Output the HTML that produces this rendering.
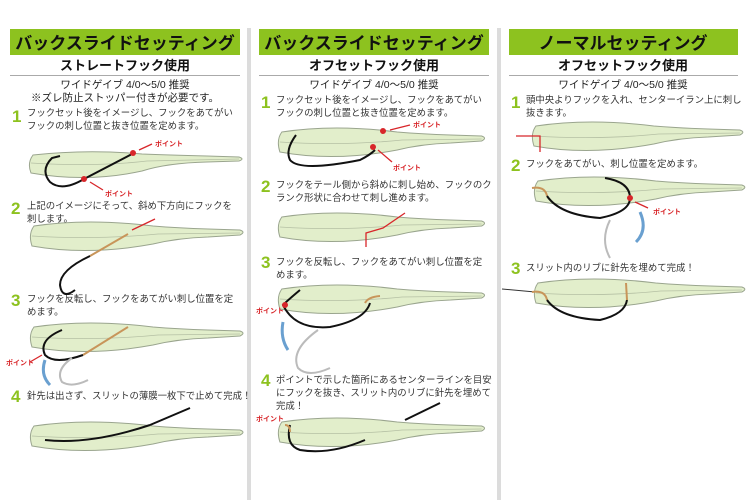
<!DOCTYPE html>
<html><head><meta charset="utf-8"><style>
body{margin:0;background:#fff;}
svg{display:block;}
text{font-family:"Liberation Sans","Noto Sans CJK JP",sans-serif;}
.h{font-size:17px;font-weight:bold;fill:#111;}
.s{font-size:13px;font-weight:bold;fill:#111;}
.t{font-size:9.4px;fill:#333;}
.c{font-size:10.5px;fill:#222;}
.n{font-size:17px;font-weight:bold;fill:#8dc21f;}
.p{font-size:7px;font-weight:bold;fill:#d8262a;}
.f{fill:#e2eecb;stroke:#9aa58e;stroke-width:1;}
.l{fill:none;stroke:#b5c0a4;stroke-width:0.8;}
.k{fill:none;stroke:#111;stroke-width:2;}
.g{fill:none;stroke:#bbb;stroke-width:2;}
.r{fill:none;stroke:#d8262a;stroke-width:1.3;}
.o{fill:none;stroke:#c8955a;stroke-width:2;}
.b{fill:none;stroke:#6aa0d0;stroke-width:3;}
</style></head><body>
<svg width="750" height="500" viewBox="0 0 750 500">
<rect x="247" y="28" width="4" height="472" fill="#dcdcdc"/>
<rect x="497" y="28" width="4" height="472" fill="#dcdcdc"/>
<rect x="10" y="29" width="230" height="26" fill="#8dc21f"/>
<rect x="259" y="29" width="230" height="26" fill="#8dc21f"/>
<rect x="509" y="29" width="229" height="26" fill="#8dc21f"/>
<text class="h" x="125" y="49" text-anchor="middle">バックスライドセッティング</text>
<text class="h" x="374" y="49" text-anchor="middle">バックスライドセッティング</text>
<text class="h" x="623" y="49" text-anchor="middle">ノーマルセッティング</text>
<text class="s" x="125" y="70" text-anchor="middle">ストレートフック使用</text>
<text class="s" x="374" y="70" text-anchor="middle">オフセットフック使用</text>
<text class="s" x="623" y="70" text-anchor="middle">オフセットフック使用</text>
<line x1="10" y1="75.5" x2="240" y2="75.5" stroke="#aaa"/>
<line x1="259" y1="75.5" x2="489" y2="75.5" stroke="#aaa"/>
<line x1="509" y1="75.5" x2="738" y2="75.5" stroke="#aaa"/>
<text class="c" x="125" y="88" text-anchor="middle">ワイドゲイブ 4/0～5/0 推奨</text>
<text class="c" x="125" y="101" text-anchor="middle">※ズレ防止ストッパー付きが必要です。</text>
<text class="c" x="374" y="88" text-anchor="middle">ワイドゲイブ 4/0～5/0 推奨</text>
<text class="c" x="623" y="88" text-anchor="middle">ワイドゲイブ 4/0～5/0 推奨</text>

<text class="n" x="12" y="122">1</text>
<text class="t" x="27" y="116">フックセット後をイメージし、フックをあてがい</text>
<text class="t" x="27" y="129">フックの刺し位置と抜き位置を定めます。</text>
<text class="n" x="11" y="214">2</text>
<text class="t" x="27" y="209">上記のイメージにそって、斜め下方向にフックを</text>
<text class="t" x="27" y="222">刺します。</text>
<text class="n" x="11" y="306">3</text>
<text class="t" x="27" y="302">フックを反転し、フックをあてがい刺し位置を定</text>
<text class="t" x="27" y="315">めます。</text>
<text class="n" x="11" y="402">4</text>
<text class="t" x="27" y="399">針先は出さず、スリットの薄膜一枚下で止めて完成！</text>

<text class="n" x="261" y="108">1</text>
<text class="t" x="276" y="103">フックセット後をイメージし、フックをあてがい</text>
<text class="t" x="276" y="116">フックの刺し位置と抜き位置を定めます。</text>
<text class="n" x="261" y="192">2</text>
<text class="t" x="276" y="188">フックをテール側から斜めに刺し始め、フックのク</text>
<text class="t" x="276" y="201">ランク形状に合わせて刺し進めます。</text>
<text class="n" x="261" y="268">3</text>
<text class="t" x="276" y="265">フックを反転し、フックをあてがい刺し位置を定</text>
<text class="t" x="276" y="278">めます。</text>
<text class="n" x="261" y="386">4</text>
<text class="t" x="276" y="383">ポイントで示した箇所にあるセンターラインを目安</text>
<text class="t" x="276" y="396">にフックを抜き、スリット内のリブに針先を埋めて</text>
<text class="t" x="276" y="409">完成！</text>

<text class="n" x="511" y="108">1</text>
<text class="t" x="526" y="103">頭中央よりフックを入れ、センターイラン上に刺し</text>
<text class="t" x="526" y="116">抜きます。</text>
<text class="n" x="511" y="171">2</text>
<text class="t" x="526" y="167">フックをあてがい、刺し位置を定めます。</text>
<text class="n" x="511" y="274">3</text>
<text class="t" x="526" y="271">スリット内のリブに針先を埋めて完成！</text>

<g>
<g transform="translate(27,151)"><path class="f" d="M6,4 Q0,12 4,22 Q60,32 115,20 Q140,12 180,11 L212,10 Q218,8 212,6 L180,5 Q140,4 115,3 Q60,-2 6,4Z"/><path class="l" d="M4,12 Q70,16 120,10 L212,8"/></g>
<g transform="translate(28,222)"><path class="f" d="M6,4 Q0,12 4,24 Q60,34 125,22 Q150,16 180,15 L212,13 Q218,10 212,8 L180,7 Q150,6 125,4 Q60,-4 6,4Z"/><path class="l" d="M4,14 Q70,18 130,12 L212,11"/></g>
<g transform="translate(28,323)"><path class="f" d="M6,4 Q0,12 4,24 Q60,34 125,22 Q150,16 180,15 L212,13 Q218,10 212,8 L180,7 Q150,6 125,4 Q60,-4 6,4Z"/><path class="l" d="M4,14 Q70,18 130,12 L212,11"/></g>
<g transform="translate(28,422)"><path class="f" d="M6,4 Q0,12 4,24 Q60,34 125,22 Q150,16 180,15 L212,13 Q218,10 212,8 L180,7 Q150,6 125,4 Q60,-4 6,4Z"/><path class="l" d="M4,14 Q70,18 130,12 L212,11"/></g>

<g transform="translate(276,128) scale(0.97,1)"><path class="f" d="M6,4 Q0,12 4,24 Q60,34 125,22 Q150,16 180,15 L212,13 Q218,10 212,8 L180,7 Q150,6 125,4 Q60,-4 6,4Z"/><path class="l" d="M4,14 Q70,18 130,12 L212,11"/></g>
<g transform="translate(276,213) scale(0.97,1)"><path class="f" d="M6,4 Q0,12 4,24 Q60,34 125,22 Q150,16 180,15 L212,13 Q218,10 212,8 L180,7 Q150,6 125,4 Q60,-4 6,4Z"/><path class="l" d="M4,14 Q70,18 130,12 L212,11"/></g>
<g transform="translate(276,285) scale(0.97,1)"><path class="f" d="M6,4 Q0,12 4,24 Q60,34 125,22 Q150,16 180,15 L212,13 Q218,10 212,8 L180,7 Q150,6 125,4 Q60,-4 6,4Z"/><path class="l" d="M4,14 Q70,18 130,12 L212,11"/></g>
<g transform="translate(276,418) scale(0.97,1)"><path class="f" d="M6,4 Q0,12 4,24 Q60,34 125,22 Q150,16 180,15 L212,13 Q218,10 212,8 L180,7 Q150,6 125,4 Q60,-4 6,4Z"/><path class="l" d="M4,14 Q70,18 130,12 L212,11"/></g>

<g transform="translate(530,122) scale(0.99,1)"><path class="f" d="M6,4 Q0,12 4,24 Q60,34 125,22 Q150,16 180,15 L212,13 Q218,10 212,8 L180,7 Q150,6 125,4 Q60,-4 6,4Z"/><path class="l" d="M4,14 Q70,18 130,12 L212,11"/></g>
<g transform="translate(532,177) scale(0.99,1)"><path class="f" d="M6,4 Q0,12 4,24 Q60,34 125,22 Q150,16 180,15 L212,13 Q218,10 212,8 L180,7 Q150,6 125,4 Q60,-4 6,4Z"/><path class="l" d="M4,14 Q70,18 130,12 L212,11"/></g>
<g transform="translate(532,279) scale(0.99,1)"><path class="f" d="M6,4 Q0,12 4,24 Q60,34 125,22 Q150,16 180,15 L212,13 Q218,10 212,8 L180,7 Q150,6 125,4 Q60,-4 6,4Z"/><path class="l" d="M4,14 Q70,18 130,12 L212,11"/></g>
</g>

<path class="k" d="M132,154 L84,179 Q62,192 50,182 Q40,170 52,158 L60,156"/>
<circle cx="133" cy="153" r="3" fill="#d8262a"/><circle cx="84" cy="179" r="3" fill="#d8262a"/>
<path class="r" d="M139,150 L152,144"/><text class="p" x="155" y="146">ポイント</text>
<path class="r" d="M90,182 L103,190"/><text class="p" x="105" y="196">ポイント</text>
<path class="o" d="M128,234 L90,256"/>
<path class="k" d="M90,256 Q60,270 60,285 Q62,300 75,290"/>
<path class="r" d="M155,219 L132,230"/>
<path class="o" d="M128,327 L83,355"/>
<path class="k" d="M62,330 Q38,340 45,355 Q55,365 83,355"/>
<path class="g" d="M72,358 Q55,370 62,382 Q72,388 88,380"/>
<path class="b" d="M45,360 Q40,375 50,385"/>
<path class="r" d="M42,355 L30,362"/><text class="p" x="6" y="365">ポイント</text>
<path class="k" d="M190,408 L150,425"/>
<path class="k" d="M150,425 Q90,445 45,440"/>

<path class="k" d="M296,135 Q285,150 290,160 Q300,172 360,160 Q370,155 375,150"/>
<circle cx="383" cy="131" r="3" fill="#d8262a"/><circle cx="373" cy="147" r="3" fill="#d8262a"/>
<path class="r" d="M390,130 L410,125"/><text class="p" x="413" y="127">ポイント</text>
<path class="r" d="M378,150 L392,162"/><text class="p" x="393" y="170">ポイント</text>
<path class="r" d="M405,213 L383,228 L366,233 L366,247"/>
<path class="k" d="M300,290 Q288,300 283,305 Q295,330 330,327 Q365,320 370,303"/>
<path class="o" d="M365,303 Q368,297 380,296"/>
<circle cx="285" cy="305" r="3" fill="#d8262a"/>
<text class="p" x="256" y="313">ポイント</text>
<path class="g" d="M318,330 Q290,350 298,368 Q308,378 330,368"/>
<path class="b" d="M283,322 Q280,338 288,350"/>
<path class="k" d="M440,403 L405,420"/>
<path class="k" d="M290,425 Q285,445 300,450 Q330,455 365,440"/>
<path class="o" d="M285,425 Q290,425 290,432"/>
<text class="p" x="256" y="421">ポイント</text>

<path class="r" d="M516,136 L540,136 L540,152"/>
<path class="o" d="M532,188 Q545,186 547,196"/>
<path class="k" d="M547,196 Q560,215 600,218 Q630,212 630,198 Q630,182 605,178"/>
<circle cx="630" cy="198" r="3" fill="#d8262a"/>
<path class="r" d="M635,202 L648,208"/><text class="p" x="653" y="214">ポイント</text>
<path class="g" d="M610,220 Q600,240 610,258"/>
<path class="b" d="M640,212 Q648,230 636,242"/>
<path fill="none" stroke="#333" stroke-width="1" d="M502,289 L535,292"/>
<path class="o" d="M532,292 Q545,290 547,300"/>
<path class="k" d="M547,300 Q560,318 600,320 Q625,314 627,300"/>
<path class="o" d="M627,300 L626,283"/>
</svg>
</body></html>
